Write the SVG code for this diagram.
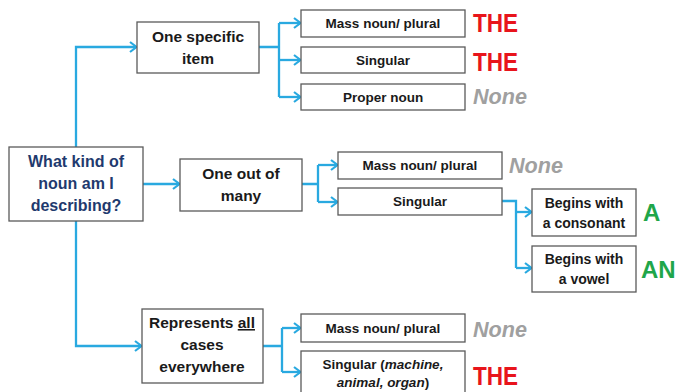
<svg xmlns="http://www.w3.org/2000/svg" width="676" height="392" viewBox="0 0 676 392">
<defs>
<marker id="arr" markerWidth="9" markerHeight="12" refX="7" refY="6" orient="auto" markerUnits="userSpaceOnUse">
<path d="M1,1 L7.5,6 L1,11" fill="none" stroke="#29A9E0" stroke-width="2.2"/>
</marker>
<style>
.box{fill:#fff;stroke:#5a5a5a;stroke-width:1.3}
.t{font-family:"Liberation Sans",Arial,sans-serif;font-weight:bold;fill:#1a1a1a;text-anchor:middle}
.big{font-size:15.5px}
.sm{font-size:13.5px}
.bg{font-size:14px}
.q{fill:#1F3A6E;font-size:16px}
.c{fill:none;stroke:#29A9E0;stroke-width:2.3}
.ca{fill:none;stroke:#29A9E0;stroke-width:2.3;marker-end:url(#arr)}
.lab{font-family:"Liberation Sans",Arial,sans-serif;font-weight:bold}
.the{fill:#E8141B;font-size:25px}
.none{fill:#A0A0A0;font-size:22px;font-style:italic}
.grn{fill:#1FA64A;font-size:24px}
</style>
</defs>
<rect width="676" height="392" fill="#fff"/>
<g id="connectors">
<path class="ca" d="M76,147 V47 H136"/>
<path class="ca" d="M143,184 H179"/>
<path class="ca" d="M76,221 V346 H141"/>
<path class="c" d="M259,47 H279 M279,23 V97"/>
<path class="ca" d="M279,23 H300"/>
<path class="ca" d="M279,60 H300"/>
<path class="ca" d="M279,97 H300"/>
<path class="c" d="M302,184 H318 M318,165 V202"/>
<path class="ca" d="M318,165 H337"/>
<path class="ca" d="M318,202 H337"/>
<path class="c" d="M502,201 H516 V268"/>
<path class="ca" d="M516,212 H531"/>
<path class="ca" d="M516,268 H531"/>
<path class="c" d="M263,346 H282 M282,328 V372"/>
<path class="ca" d="M282,328 H300"/>
<path class="ca" d="M282,372 H300"/>
</g>
<g id="root">
<rect class="box" x="9" y="147" width="134" height="74"/>
<text class="t q" x="76" y="167">What kind of</text>
<text class="t q" x="76" y="189">noun am I</text>
<text class="t q" x="76" y="211">describing?</text>
</g>
<g id="specific">
<rect class="box" x="137" y="22" width="122" height="51"/>
<text class="t big" x="198" y="42">One specific</text>
<text class="t big" x="198" y="64">item</text>
</g>
<g id="many">
<rect class="box" x="180" y="159" width="122" height="52"/>
<text class="t big" x="241" y="179">One out of</text>
<text class="t big" x="241" y="201">many</text>
</g>
<g id="all">
<rect class="box" x="142" y="309" width="121" height="74"/>
<text class="t big" x="202" y="328">Represents <tspan text-decoration="underline">all</tspan></text>
<text class="t big" x="202" y="350">cases</text>
<text class="t big" x="202" y="372">everywhere</text>
</g>
<g id="spec-mass">
<rect class="box" x="301" y="10" width="164" height="27"/>
<text class="t sm" x="383" y="28">Mass noun/ plural</text>
<text class="lab the" x="473" y="32" textLength="45" lengthAdjust="spacingAndGlyphs">THE</text>
</g>
<g id="spec-singular">
<rect class="box" x="301" y="47" width="164" height="26"/>
<text class="t sm" x="383" y="65">Singular</text>
<text class="lab the" x="473" y="71" textLength="45" lengthAdjust="spacingAndGlyphs">THE</text>
</g>
<g id="spec-proper">
<rect class="box" x="301" y="84" width="164" height="26"/>
<text class="t sm" x="383" y="102">Proper noun</text>
<text class="lab none" x="473" y="104" textLength="54" lengthAdjust="spacingAndGlyphs">None</text>
</g>
<g id="many-mass">
<rect class="box" x="338" y="152" width="164" height="27"/>
<text class="t sm" x="420" y="170">Mass noun/ plural</text>
<text class="lab none" x="509" y="173" textLength="54" lengthAdjust="spacingAndGlyphs">None</text>
</g>
<g id="many-singular">
<rect class="box" x="338" y="188" width="164" height="27"/>
<text class="t sm" x="420" y="206">Singular</text>
</g>
<g id="consonant">
<rect class="box" x="532" y="189" width="104" height="47"/>
<text class="t bg" x="584" y="208">Begins with</text>
<text class="t bg" x="584" y="228">a consonant</text>
<text class="lab grn" x="643" y="221">A</text>
</g>
<g id="vowel">
<rect class="box" x="532" y="246" width="104" height="46"/>
<text class="t bg" x="584" y="264">Begins with</text>
<text class="t bg" x="584" y="284">a vowel</text>
<text class="lab grn" x="641" y="278">AN</text>
</g>
<g id="all-mass">
<rect class="box" x="301" y="314" width="164" height="28"/>
<text class="t sm" x="383" y="333">Mass noun/ plural</text>
<text class="lab none" x="473" y="337" textLength="54" lengthAdjust="spacingAndGlyphs">None</text>
</g>
<g id="all-singular">
<rect class="box" x="301" y="351" width="164" height="42"/>
<text class="t sm" x="383" y="369">Singular (<tspan font-style="italic">machine,</tspan></text>
<text class="t sm" x="383" y="387"><tspan font-style="italic">animal, organ</tspan>)</text>
<text class="lab the" x="473" y="385" textLength="45" lengthAdjust="spacingAndGlyphs">THE</text>
</g>
</svg>
